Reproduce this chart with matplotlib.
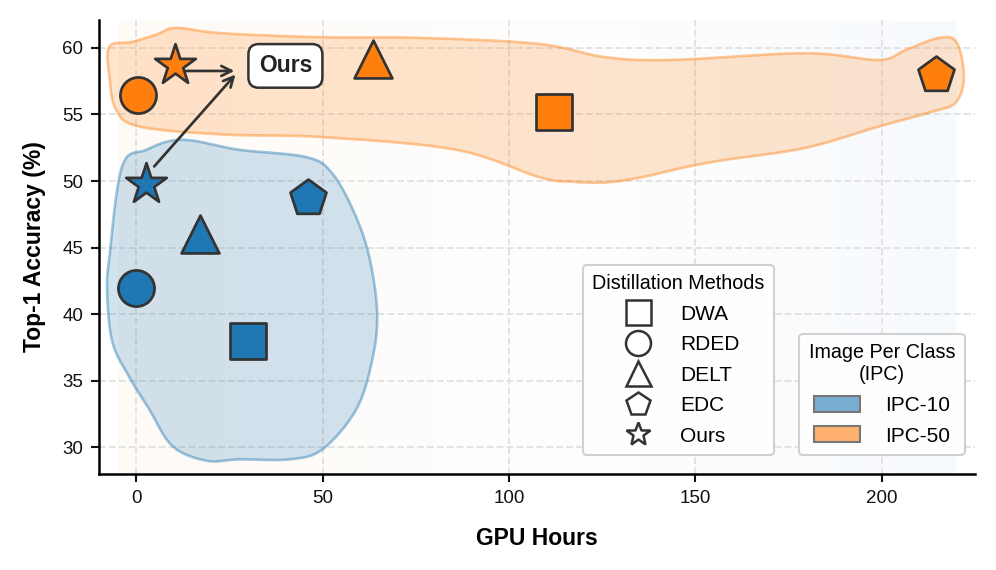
import numpy as np
import matplotlib
matplotlib.use('Agg')
import matplotlib.pyplot as plt
from matplotlib.colors import LinearSegmentedColormap, to_rgba
from matplotlib.lines import Line2D
from matplotlib.patches import Patch

plt.rcParams['font.family'] = ['Liberation Sans', 'DejaVu Sans']

# ── Data ──────────────────────────────────────────────────────────────────────
methods = ['DWA', 'RDED', 'DELT', 'EDC', 'Ours']
markers = ['s', 'o', '^', 'p', '*']
sizes = [300, 300, 330, 330, 420]

hours_ipc10 = [30.0, 0.0, 17.0, 46.0, 2.5]
acc_ipc10 = [38.0, 42.0, 46.0, 48.7, 49.8]

hours_ipc50 = [112.0, 0.5, 63.5, 214.5, 10.5]
acc_ipc50 = [55.2, 56.5, 59.2, 58.0, 58.7]

# blob outlines (control points, smoothed below)
blob10_x = [-7.2, -3.8, 2.7, 12.3, 27.6, 45.6, 52.5, 58.5, 62.5, 64.6, 63.3,
            59.0, 49.9, 41.0, 27.6, 18.8, 9.7, 3.5, -1.9, -6.4, -7.8]
blob10_y = [44.3, 51.1, 52.35, 53.1, 52.35, 51.8, 50.6, 47.6, 44.3, 40.1,
            36.6, 32.85, 29.85, 29.1, 29.1, 29.0, 30.1, 32.85, 35.3, 37.9, 41.6]

blob50_x = [-7.2, -1.1, 5.4, 10.7, 23.1, 49.9, 76.7, 108.0, 126.0, 143.7,
            179.6, 199.2, 206.4, 215.3, 220.1, 222.0, 219.8, 213.4, 199.2,
            179.6, 158.2, 148.3, 134.9, 126.0, 116.9, 108.0, 85.8, 49.9,
            23.1, 0.8, -5.4, -7.2]
blob50_y = [60.1, 60.45, 61.0, 61.5, 61.1, 60.8, 60.75, 60.3, 59.3, 59.1,
            59.6, 59.1, 59.85, 60.75, 60.4, 57.8, 55.9, 55.2, 54.1, 52.5,
            51.6, 51.1, 50.25, 49.9, 49.95, 50.3, 52.35, 53.3, 53.5, 54.1,
            55.35, 57.8]

xticks = [0, 50, 100, 150, 200]
yticks = [30, 35, 40, 45, 50, 55, 60]

# ── Colors ────────────────────────────────────────────────────────────────────
col10 = '#1f77b4'
col50 = '#ff7f0e'
col_edge = '#333333'
bg_left = '#fefaf6'
bg_right = '#f7fafe'


def smooth_closed(xs, ys, n=24):
    P = np.column_stack([xs, ys])
    N = len(P)
    t = np.linspace(0, 1, n, endpoint=False)[:, None]
    out = []
    for i in range(N):
        p0, p1, p2, p3 = P[i - 1], P[i], P[(i + 1) % N], P[(i + 2) % N]
        out.append(0.5 * (2 * p1 + (-p0 + p2) * t
                          + (2 * p0 - 5 * p1 + 4 * p2 - p3) * t ** 2
                          + (-p0 + 3 * p1 - 3 * p2 + p3) * t ** 3))
    return np.vstack(out)


fig = plt.figure(figsize=(6.64, 3.8), dpi=150, facecolor='white')
ax = fig.add_axes([0.0994, 0.1684, 0.8796, 0.7966])

# background gradient
grad = np.linspace(0, 1, 256).reshape(1, -1)
bg_cmap = LinearSegmentedColormap.from_list('bg', [bg_left, '#fefefd', bg_right])
ax.imshow(grad, extent=[-5, 220, 28, 62], aspect='auto', cmap=bg_cmap,
          zorder=0, origin='lower')

# blobs
for bx, by, c in [(blob10_x, blob10_y, col10), (blob50_x, blob50_y, col50)]:
    pts = smooth_closed(bx, by)
    ax.fill(pts[:, 0], pts[:, 1], facecolor=to_rgba(c, 0.2),
            edgecolor=to_rgba(c, 0.42), linewidth=1.3, zorder=1)

# points
for i in range(len(methods)):
    ax.scatter(hours_ipc10[i], acc_ipc10[i], marker=markers[i], s=sizes[i],
               color=col10, edgecolor=col_edge, linewidth=1.3, zorder=3)
    ax.scatter(hours_ipc50[i], acc_ipc50[i], marker=markers[i], s=sizes[i],
               color=col50, edgecolor=col_edge, linewidth=1.3, zorder=3)

# "Ours" annotation
ax.text(40.0, 58.65, 'Ours', fontsize=11, fontweight='bold', color='#222222',
        ha='center', va='center', zorder=6,
        bbox=dict(boxstyle='round,pad=0.45', facecolor='white',
                  edgecolor=col_edge, linewidth=1.2))
arrow_kw = dict(arrowstyle='->', color=col_edge, lw=1.3, mutation_scale=12,
                shrinkA=0, shrinkB=0)
ax.annotate('', xy=(26.6, 58.0), xytext=(4.8, 51.1), arrowprops=arrow_kw,
            zorder=5)
ax.annotate('', xy=(26.3, 58.27), xytext=(13.3, 58.27), arrowprops=arrow_kw,
            zorder=5)

# axes styling
ax.set_xlim(-10, 225)
ax.set_ylim(28, 62.1)
ax.set_xticks(xticks)
ax.set_yticks(yticks)
ax.tick_params(labelsize=9, width=1.0, length=4, colors='#111111')
ax.grid(True, linestyle='--', color='#e2e2e2', linewidth=0.9, zorder=0.5)
ax.set_axisbelow(True)
for side in ['top', 'right']:
    ax.spines[side].set_visible(False)
for side in ['left', 'bottom']:
    ax.spines[side].set_linewidth(1.2)
ax.set_xlabel('GPU Hours', fontsize=11, fontweight='bold', labelpad=10)
ax.set_ylabel('Top-1 Accuracy (%)', fontsize=11, fontweight='bold', labelpad=8)

# legends
method_handles = [Line2D([0], [0], marker=m, linestyle='none', markersize=12,
                         markerfacecolor='white', markeredgecolor=col_edge,
                         markeredgewidth=1.2, label=name)
                  for m, name in zip(markers, methods)]
leg1 = ax.legend(handles=method_handles, title='Distillation Methods',
                 title_fontsize=9.5, fontsize=10, loc='lower left',
                 bbox_to_anchor=(0.5525, 0.042), borderaxespad=0,
                 frameon=True, fancybox=True, edgecolor='#cccccc',
                 framealpha=0.9, labelspacing=0.55, handletextpad=1.0,
                 borderpad=0.45)
ax.add_artist(leg1)

ipc_handles = [Patch(facecolor=to_rgba(col10, 0.6), edgecolor='#777777',
                     label='IPC-10'),
               Patch(facecolor=to_rgba(col50, 0.6), edgecolor='#777777',
                     label='IPC-50')]
leg2 = ax.legend(handles=ipc_handles, title='Image Per Class\n(IPC)',
                 title_fontsize=9.5, fontsize=10, loc='lower right',
                 bbox_to_anchor=(0.988, 0.042), borderaxespad=0,
                 frameon=True, fancybox=True, edgecolor='#cccccc',
                 framealpha=0.9, labelspacing=0.55, handlelength=2.2,
                 handleheight=0.8, handletextpad=1.2, borderpad=0.45)
leg2.get_title().set_multialignment('center')

fig.savefig('out.png', dpi=150, facecolor='white')
